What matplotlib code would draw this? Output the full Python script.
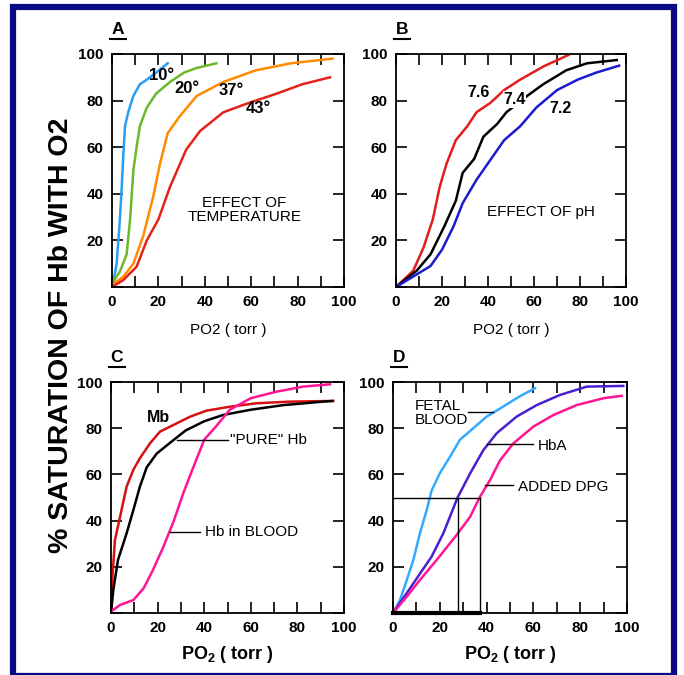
import matplotlib
matplotlib.use("Agg")
import matplotlib.pyplot as plt
from matplotlib.patches import Rectangle
from matplotlib.lines import Line2D

plt.rcParams['font.family'] = ['Liberation Sans', 'DejaVu Sans']
plt.rcParams['mathtext.fontset'] = 'custom'
plt.rcParams['mathtext.rm'] = 'Liberation Sans'
plt.rcParams['mathtext.bf'] = 'Liberation Sans:bold'

# ---- panel A: effect of temperature ----
t10_x = [0, 0.6, 2, 3.4, 4.2, 4.9, 5.6, 7, 9.2, 12, 15, 19, 24]
t10_y = [1, 2.3, 10, 29, 43, 57, 69, 75, 82, 87, 89, 92, 96]
t20_x = [0, 3.4, 6.3, 7.8, 9.2, 10.6, 12, 15, 19, 25, 31, 36.5, 45]
t20_y = [1.5, 6.6, 14, 29, 50, 60, 69, 77, 83, 88, 92, 94, 96]
t37_x = [0, 4.9, 9.2, 13.5, 17.8, 20.7, 24, 29, 36.5, 48, 62, 77, 95]
t37_y = [1, 4.4, 10, 22, 39, 53, 66, 73, 82, 88, 93, 96, 98]
t43_x = [0, 4.9, 10.6, 15, 20, 25, 32, 38, 48, 59, 71, 82, 94]
t43_y = [0, 3, 8.7, 20, 29, 43, 59, 67, 75, 79, 83, 87, 90]

# ---- panel B: effect of pH ----
ph76_x = [0, 7.5, 12, 16, 19, 22, 26, 31, 35, 41, 47, 54, 64, 75]
ph76_y = [0, 7, 17, 29, 43, 53, 63, 69, 75, 79, 84.5, 89, 94.6, 99.6]
ph74_x = [0, 9, 15, 21, 26, 29, 34, 38, 44, 48, 57, 64, 74, 83, 96]
ph74_y = [0, 7, 14, 26, 37, 49, 55, 64.5, 70, 75, 82, 87, 93, 96, 97.4]
ph72_x = [0, 10, 15, 20, 25, 29, 35, 41, 47, 54, 61, 70, 79, 87, 97]
ph72_y = [0, 6, 9, 16, 26, 36, 46, 54.5, 63, 69, 77, 84.5, 89, 92, 95]

# ---- panel C: Mb, pure Hb, Hb in blood ----
mb_x = [0, 0.7, 1.7, 3.9, 6.7, 9.6, 12.4, 16.7, 21, 28, 34, 41, 51, 62.5, 77, 95.4]
mb_y = [0, 17, 31.6, 41.7, 54.7, 62, 67, 73.4, 78.5, 82, 85, 87.6, 89.3, 90.8, 91.5, 91.8]
hb_x = [0, 1, 3, 6.7, 9.6, 12.4, 15.3, 19.6, 25, 32, 40, 48, 60, 74, 91, 95]
hb_y = [0, 10, 23, 34.5, 44.6, 54.7, 63, 69, 73.4, 79, 83, 85.7, 88, 90, 91.5, 91.8]
blood_x = [0, 3.9, 9.6, 14, 18, 22.5, 27, 31, 35.3, 40, 45, 51, 60, 71, 82.5, 94]
blood_y = [0.6, 3.5, 5.6, 10.7, 18.6, 28.7, 40, 51.8, 63, 75, 80.7, 88, 93, 95.8, 98, 99]

# ---- panel D: fetal blood, HbA, added DPG ----
fetal_x = [0, 3, 5.8, 8.7, 11.5, 14.4, 16.5, 20, 24.4, 28.6, 34.3, 40, 47, 54, 60.7]
fetal_y = [0, 5.6, 14, 23, 34.5, 44.6, 53, 60.5, 67.7, 75, 80, 85, 89.3, 93.7, 97.3]
hba_x = [0, 5.8, 11.5, 16.5, 21.5, 27.6, 33, 38.6, 44.3, 52.8, 61.4, 71.4, 82.8, 98.4]
hba_y = [0, 8.5, 17, 24.4, 34.5, 50, 60.5, 70.5, 77.8, 85, 90, 94.4, 98, 98.3]
dpg_x = [0, 5.8, 11.5, 18.7, 27.2, 33, 37, 41.5, 45.7, 51.4, 60, 68.5, 78.5, 90, 97.7]
dpg_y = [0, 7, 14.3, 23, 33.8, 41.7, 50, 57.6, 66, 73.4, 80.7, 85.7, 90, 93, 94]
p50_hba = 27.6
p50_dpg = 37

W, H = 684, 675
fig = plt.figure(figsize=(W / 100, H / 100), dpi=100)


def add_panel(left, top, right, bottom):
    return fig.add_axes([left / W, 1 - bottom / H, (right - left) / W, (bottom - top) / H])


def style(ax, letter):
    ax.set_xlim(0, 100)
    ax.set_ylim(0, 100)
    ax.set_xticks(range(0, 101, 20))
    ax.set_xticks(range(10, 100, 20), minor=True)
    ax.set_yticks(range(20, 101, 20))
    ax.set_yticks(range(0, 100, 20), minor=True)
    ax.tick_params(which='both', direction='in', length=8, width=1.2,
                   top=True, right=True, labelsize=11, pad=6)
    for t in ax.get_xticklabels() + ax.get_yticklabels():
        t.set_fontweight('bold')
    for s in ax.spines.values():
        s.set_linewidth(1.3)
    ax.text(0.025, 1.075, letter, transform=ax.transAxes, fontsize=12.5,
            fontweight='bold', ha='center', va='bottom')
    ax.add_line(Line2D([-0.01, 0.06], [1.065, 1.065], transform=ax.transAxes,
                       color='black', lw=1.5, clip_on=False))


lw = 1.8

# A
axA = add_panel(112, 54, 344, 287)
axA.plot(t10_x, t10_y, color='#2a9df4', lw=lw)
axA.plot(t20_x, t20_y, color='#6cb82a', lw=lw)
axA.plot(t37_x, t37_y, color='#ff8a00', lw=lw)
axA.plot(t43_x, t43_y, color='#e42218', lw=lw)
for lab, x, y in [('10°', 21.4, 90.6), ('20°', 32.2, 85.3), ('37°', 51.6, 84.5), ('43°', 63, 76.7)]:
    axA.text(x, y, lab, fontsize=12, fontweight='bold', ha='center', va='center')
axA.text(57, 33, 'EFFECT OF\nTEMPERATURE', fontsize=11, ha='center', va='center',
         linespacing=1.0)
axA.set_xlabel('PO2 ( torr )', fontsize=11, labelpad=10)
style(axA, 'A')

# B
axB = add_panel(396, 54, 626, 287)
axB.plot(ph76_x, ph76_y, color='#e51c1c', lw=lw)
axB.plot(ph74_x, ph74_y, color='black', lw=lw)
axB.plot(ph72_x, ph72_y, color='#1a1ad0', lw=lw)
axB.text(36, 83.4, '7.6', fontsize=11.5, fontweight='bold', ha='center', va='center')
axB.text(51.5, 80.5, '7.4', fontsize=11.5, fontweight='bold', ha='center', va='center',
         bbox=dict(facecolor='white', edgecolor='none', pad=0.5))
axB.text(71.6, 76.7, '7.2', fontsize=11.5, fontweight='bold', ha='center', va='center')
axB.text(63, 32, 'EFFECT OF pH', fontsize=11, ha='center', va='center')
axB.set_xlabel('PO2 ( torr )', fontsize=11, labelpad=10)
style(axB, 'B')

# C
axC = add_panel(111, 382, 344, 613)
axC.plot(mb_x, mb_y, color='#d41010', lw=lw)
axC.plot(hb_x, hb_y, color='black', lw=lw)
axC.plot(blood_x, blood_y, color='#ff1493', lw=lw)
axC.text(20.3, 84.7, 'Mb', fontsize=11.5, fontweight='bold', ha='center', va='center')
axC.plot([28.2, 50.3], [75, 75], color='black', lw=1)
axC.text(51, 75, '"PURE" Hb', fontsize=11, ha='left', va='center')
axC.plot([25.3, 38.2], [35.2, 35.2], color='black', lw=1)
axC.text(40.3, 35.2, 'Hb in BLOOD', fontsize=11, ha='left', va='center')
axC.set_xlabel(r'PO$_{\mathbf{2}}$ ( torr )', fontsize=13, fontweight='bold', labelpad=6)
style(axC, 'C')

# D
axD = add_panel(393, 382, 627, 613)
axD.plot(fetal_x, fetal_y, color='#33aaff', lw=lw)
axD.plot(hba_x, hba_y, color='#4b1fd0', lw=lw)
axD.plot(dpg_x, dpg_y, color='#ff1493', lw=lw)
axD.plot([0, p50_dpg], [50, 50], color='black', lw=1)
axD.plot([p50_hba, p50_hba], [0, 50], color='black', lw=1)
axD.plot([p50_dpg, p50_dpg], [0, 50], color='black', lw=1)
axD.plot([0, p50_dpg], [0, 0], color='black', lw=3, clip_on=False)
axD.text(9.1, 86.4, 'FETAL\nBLOOD', fontsize=11, ha='left', va='center', linespacing=1.0)
axD.plot([32.2, 42.9], [87, 87], color='black', lw=1)
axD.text(62, 72.3, 'HbA', fontsize=11, ha='left', va='center')
axD.plot([40, 60], [73, 73], color='black', lw=1)
axD.text(53.6, 54.7, 'ADDED DPG', fontsize=11, ha='left', va='center')
axD.plot([39.3, 51.4], [55.4, 55.4], color='black', lw=1)
axD.set_xlabel(r'PO$_{\mathbf{2}}$ ( torr )', fontsize=13, fontweight='bold', labelpad=6)
style(axD, 'D')

fig.text(61 / W, 1 - 335 / H, '% SATURATION OF Hb WITH O2', rotation=90,
         fontsize=20.5, fontweight='bold', ha='center', va='center')

# navy frame
fig.add_artist(Rectangle((13 / W, -1 / H), (674 - 13) / W, (668 + 1) / H,
                         transform=fig.transFigure, fill=False,
                         edgecolor='#0a0a86', lw=4.5))

fig.savefig('out.png', dpi=100)
